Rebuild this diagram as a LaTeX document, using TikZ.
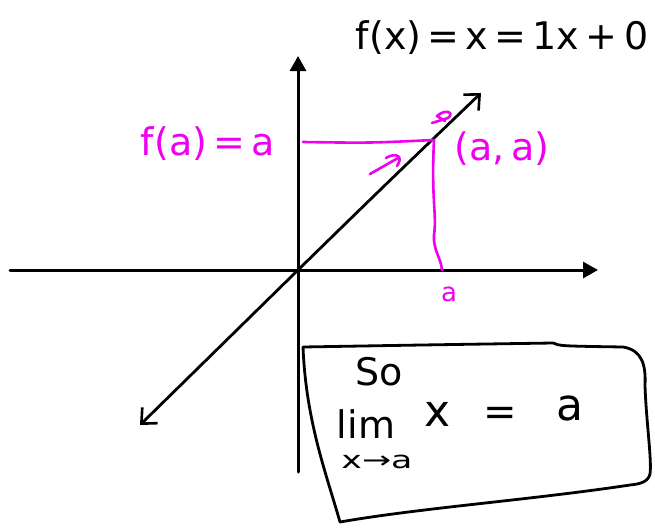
\documentclass[tikz,border=0pt]{standalone}
\usepackage{fontspec}
\setmainfont{DejaVu Sans}
\usetikzlibrary{arrows.meta}
\definecolor{mag}{RGB}{240,0,240}
\begin{document}
\begin{tikzpicture}[x=1pt,y=-1pt,line cap=round,line join=round,
  ink/.style={line width=2.8pt,black},
  pinkink/.style={line width=2.6pt,mag},
  axis/.style={line width=3pt,black,-{Triangle[length=15pt,width=16pt]}},
  barbs/.style={{Straight Barb[length=12pt,width=22pt,line width=2.6pt]}-{Straight Barb[length=12pt,width=22pt,line width=2.6pt]}},
  lbl/.style={inner sep=0pt,font=\fontsize{38}{38}\selectfont},
  plbl/.style={inner sep=0pt,text=mag,font=\fontsize{38}{38}\selectfont},
  boxtxt/.style={inner sep=0pt,font=\fontsize{38}{38}\selectfont}]
\useasboundingbox (0,0) rectangle (655,527);
% axes
\coordinate (xl) at (10,270);
\coordinate (xr) at (598,270);
\coordinate (yb) at (298,472);
\coordinate (yt) at (298,56);
\coordinate (o) at (298,270);
\draw[axis] (xl) -- (xr);
\draw[axis] (yb) -- (yt);
% diagonal line y = x
\coordinate (dl) at (140,425);
\coordinate (du) at (481,93);
\draw[ink,barbs] (dl) .. controls (220,347) .. (o) .. controls (385,185) .. (du);
% pink guide lines
\coordinate (fa) at (303,142);
\coordinate (pt) at (434,140);
\coordinate (ax) at (442,270);
\draw[pinkink] (fa) .. controls (370,143) .. (pt);
\draw[pinkink] (pt) .. controls (431,200) and (437,215) .. (434,235) .. controls (433,250) and (441,258) .. (ax);
% small pink arrows
\coordinate (s1) at (370,174);
\coordinate (s2) at (398,158);
\draw[pinkink] (s1) -- (s2);
\draw[pinkink] (386,158) .. controls (396,152) and (404,156) .. (397,166);
\coordinate (m1) at (432,123);
\draw[pinkink] (m1) -- (448,118) .. controls (455,113) and (446,108) .. (437,116) -- (445,121);
% pink labels
\node[plbl] (lfa) at (208,144) {f(a)\,=\,a};
\node[plbl] (laa) at (502,149) {(a,\,a)};
\node[plbl,font=\fontsize{26}{26}\selectfont] (la) at (449,294) {a};
% top formula
\node[lbl] (fx) at (502,38) {f(x)\,=\,x\,=\,1x\,+\,0};
% box
\draw[ink] (303,347) .. controls (420,345) .. (553,343) .. controls (560,346) .. (623,347)
  .. controls (642,350) and (646,365) .. (645,385) .. controls (646,420) and (652,460) .. (650,474)
  .. controls (648,482) and (640,484) .. (630,485) .. controls (530,500) and (420,508) .. (340,522)
  .. controls (325,470) and (306,420) .. (303,347);
\node[boxtxt] (so) at (379,372) {So};
\node[boxtxt] (lim) at (366,424) {lim};
\node[boxtxt,font=\fontsize{44}{44}\selectfont] (lx) at (438,414) {x};
\node[boxtxt,font=\fontsize{40}{40}\selectfont] (leq) at (500,416) {=};
\node[boxtxt,font=\fontsize{44}{44}\selectfont] (la2) at (570,408) {a};
\node[boxtxt,font=\fontsize{24}{24}\selectfont] (sub) at (377,462) {\scalebox{1.45}[1]{x→a}};
\end{tikzpicture}
\end{document}
